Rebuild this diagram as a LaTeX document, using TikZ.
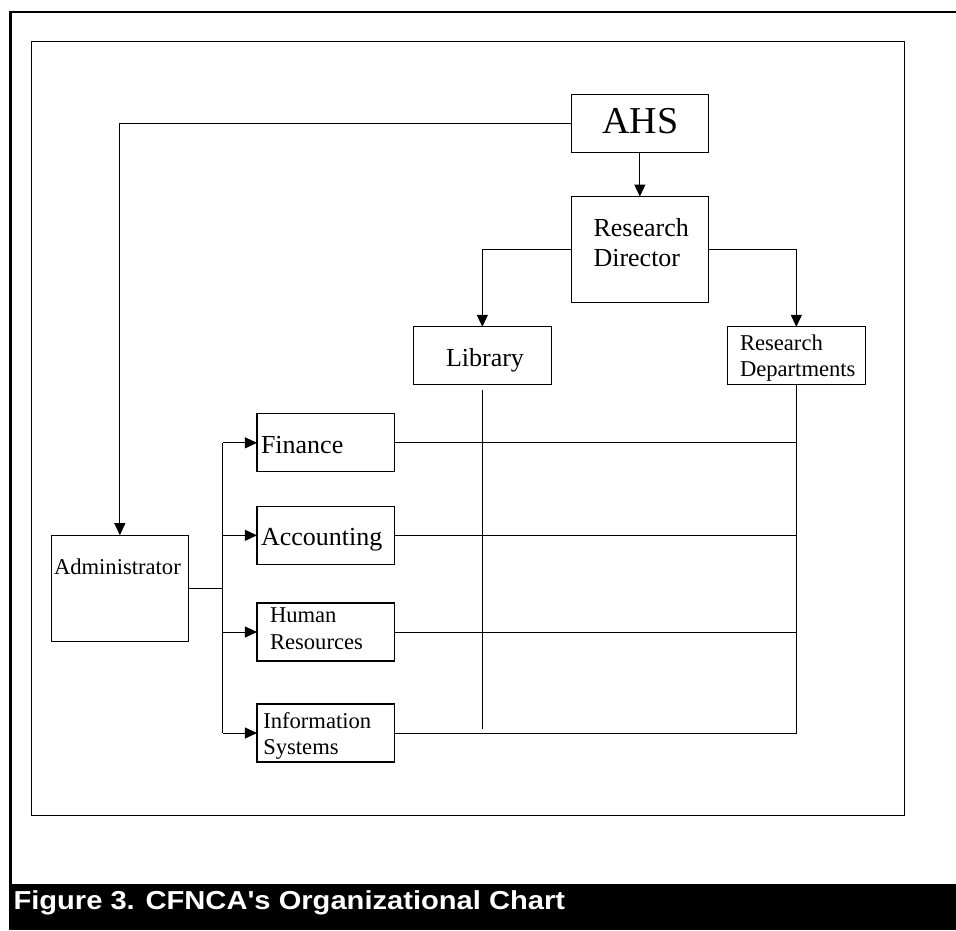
\documentclass[tikz,border=0pt]{standalone}
\usepackage{fontspec}
\setmainfont{Liberation Serif}
\newfontfamily\capfont[FakeStretch=1.12]{Liberation Sans}
\usetikzlibrary{arrows.meta}
\newcommand{\twoln}[2]{\vtop{\hbox{#1}\hbox{#2}}}
\begin{document}
\begin{tikzpicture}[x=1pt,y=-1pt,
  box/.style={draw, line width=1.1pt, rectangle, inner sep=0pt, outer sep=0pt},
  wide/.style={minimum width=137.6pt},
  short/.style={minimum height=58pt},
  tall/.style={minimum height=106.3pt},
  lbl/.style={anchor=base west, inner sep=0pt, outer sep=0pt},
  big/.style={font=\fontsize{26}{30}\selectfont},
  small/.style={font=\fontsize{22.6}{26.5}\selectfont},
  conn/.style={line width=1pt},
  arr/.style={conn, -{Triangle[length=12pt, width=11pt]}}]
\useasboundingbox (0,0) rectangle (956,930);
% frame
\draw[line width=1.3pt] (31.7,41.7) rectangle (904.3,815.7);
\draw[line width=2.6pt] (9,12) -- (956,12);
\draw[line width=3pt] (10.4,10.7) -- (10.4,884);
\fill[black] (9,884) rectangle (956,930);
\node[lbl, text=white, font=\capfont\bfseries\fontsize{26}{30}\selectfont] (cap) at (13.5,909.5) {Figure 3. CFNCA's Organizational Chart};
% boxes
\node[box, wide, short] (ahs) at (639.85,123.5) {};
\node[box, wide, tall]  (rd)  at (639.85,249.7) {};
\node[box, wide, short] (lib) at (482.35,355.85) {};
\node[box, wide, short] (rdd) at (796.35,355.85) {};
\node[box, wide, short] (fin) at (325.75,442.85) {};
\node[box, wide, short] (acc) at (325.75,535.35) {};
\node[box, wide, short] (hr)  at (325.75,632) {};
\node[box, wide, short] (is)  at (325.75,733) {};
\node[box, wide, tall]  (adm) at (119.85,588.35) {};
% labels
\node[anchor=base, inner sep=0pt, font=\fontsize{38}{44}\selectfont] (ahst) at (640.5,133.3) {AHS};
\node[lbl, big] (rdt) at (593.5,236) {\twoln{Research}{Director}};
\node[lbl, big] (libt) at (446,366.7) {Library};
\node[lbl, small] (rddt) at (740,350) {\twoln{Research}{Departments}};
\node[lbl, big] (fint) at (261,453.3) {Finance};
\node[lbl, big] (acct) at (261,545.7) {Accounting};
\node[lbl, small] (hrt) at (270,622.7) {\twoln{Human}{Resources}};
\node[lbl, small, font=\fontsize{22.6}{25.8}\selectfont] (ist) at (263.3,728.3) {\twoln{Information}{Systems}};
\node[lbl, small] (admt) at (54,574) {Administrator};
% connectors
\draw[arr] (ahs.west) -| (adm.north);
\draw[arr] (ahs.south) -- (rd.north);
\draw[arr] (rd.west) -| (lib.north);
\draw[arr] (rd.east) -| (rdd.north);
\draw[conn] (adm.east) -- ++(34,0) coordinate (bus);
\draw[conn] (bus|-fin.west) -- (bus|-is.west);
\draw[arr] (bus|-fin.west) -- (fin.west);
\draw[arr] (bus|-acc.west) -- (acc.west);
\draw[arr] (bus|-hr.west) -- (hr.west);
\draw[arr] (bus|-is.west) -- (is.west);
\coordinate (libtop) at (482.35,390);
\coordinate (libend) at (482.35,729);
\draw[conn] (libtop) -- (libend);
\draw[conn] (rdd.south) |- (is.east);
\draw[conn] (fin.east) -- (fin.east-|rdd.south);
\draw[conn] (acc.east) -- (acc.east-|rdd.south);
\draw[conn] (hr.east) -- (hr.east-|rdd.south);
\end{tikzpicture}
\end{document}
